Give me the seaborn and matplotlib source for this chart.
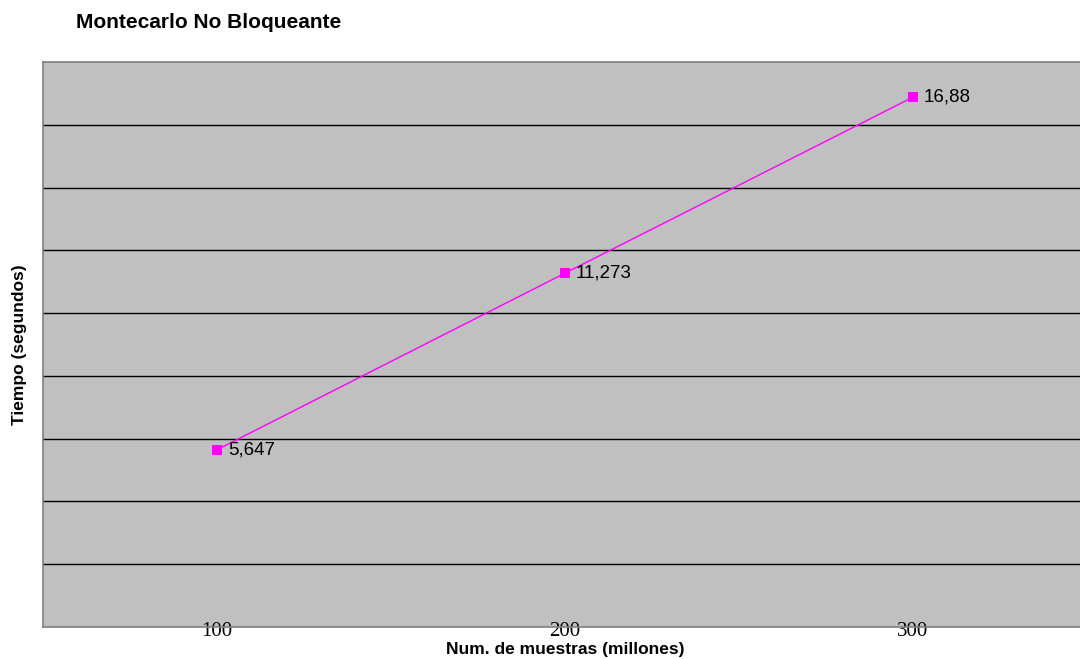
import matplotlib
matplotlib.use("Agg")
import matplotlib.pyplot as plt
import seaborn as sns
import pandas as pd

# Data
muestras = [100, 200, 300]          # millions of samples
tiempos = [5.647, 11.273, 16.88]    # seconds

df = pd.DataFrame({"muestras": muestras, "tiempo": tiempos})

sns.set_theme(style="white")
plt.rcParams["font.family"] = ["Liberation Sans", "DejaVu Sans"]
plt.rcParams["text.color"] = "black"
plt.rcParams["axes.labelcolor"] = "black"
plt.rcParams["xtick.color"] = "black"

W, H = 1080, 659
fig = plt.figure(figsize=(W / 100, H / 100), dpi=100)
left_px, right_px, top_px, bottom_px = 43, 1087, 62, 627
ax = fig.add_axes([left_px / W, 1 - bottom_px / H,
                   (right_px - left_px) / W, (bottom_px - top_px) / H])

ax.set_facecolor("#C0C0C0")
for sp in ax.spines.values():
    sp.set_color("#808080")
    sp.set_linewidth(1.2)

# Horizontal grid lines
ax.set_ylim(0, 18)
ax.set_xlim(50, 350)
for yv in range(2, 18, 2):
    ax.axhline(yv, color="black", linewidth=1.0, zorder=1)

sns.lineplot(data=df, x="muestras", y="tiempo", ax=ax, color="#FF00FF",
             linewidth=1.0, marker="s", markersize=7, markeredgewidth=0,
             zorder=3)

for x, y in zip(muestras, tiempos):
    ax.annotate(f"{y:g}".replace(".", ","), (x, y), xytext=(8, 0),
                textcoords="offset points", va="center", ha="left",
                fontsize=13.5, color="black", zorder=4)

ax.set_yticks([])
ax.set_xticks(muestras)
ax.set_xticklabels([str(m) for m in muestras], family="Liberation Serif",
                   fontsize=15)
ax.tick_params(axis="x", length=0, pad=-3.5)

ax.set_xlabel("Num. de muestras (millones)", fontsize=12.5, fontweight="bold")
ax.xaxis.set_label_coords(0.5, -0.0265)
ax.set_ylabel("Tiempo (segundos)", fontsize=12.5, fontweight="bold")
ax.yaxis.set_label_coords(-0.0155, 0.5)

fig.text(76 / W, 1 - 22 / H, "Montecarlo No Bloqueante", fontsize=15,
         fontweight="bold", va="center", ha="left")

fig.savefig("out.png", dpi=100)
